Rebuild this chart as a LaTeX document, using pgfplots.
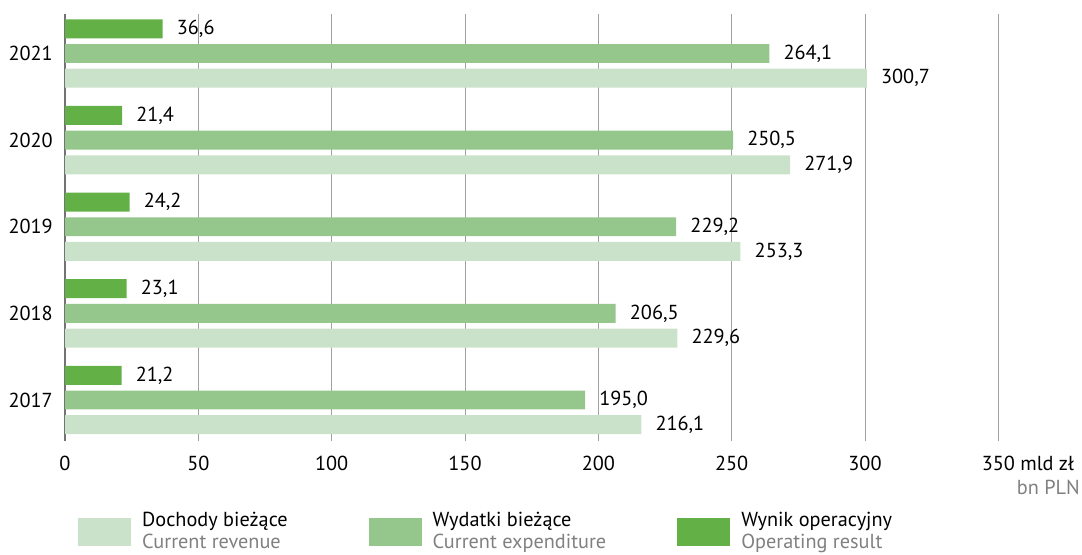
\documentclass[border=0pt]{standalone}
\usepackage{fontspec}
\setmainfont{PT Sans}
\usepackage{pgfplots}
\pgfplotsset{compat=1.18}
\definecolor{gdark}{RGB}{99,177,70}
\definecolor{gmid}{RGB}{149,198,139}
\definecolor{glight}{RGB}{203,226,202}
\definecolor{gridgray}{RGB}{160,160,160}
\definecolor{txtgray}{RGB}{128,128,128}
\pgfplotsset{sw/.style={legend image code/.code={\fill[#1] (0pt,-10.5pt) rectangle (39.75pt,10.5pt);}}}

\begin{document}
\fontsize{15.2}{16.5}\selectfont
\begin{tikzpicture}
\useasboundingbox (-48.75pt,-84.75pt) rectangle (762.75pt,330.75pt);
\begin{axis}[
  at={(0,0)}, anchor=south west,
  scale only axis, width=700pt, height=320.25pt,
  xbar, bar width=0.219,
  xmin=0, xmax=350, ymin=-0.4734, ymax=4.456,
  xtick={0,50,...,350},
  xticklabels={0,50,100,150,200,250,300,350\rlap{ mld zł}},
  ytick={0,...,4}, yticklabels={2017,2018,2019,2020,2021},
  major tick length=0pt,
  axis lines*=left, separate axis lines,
  x axis line style={draw=none},
  y axis line style={-, draw=black!55, line width=0.8pt},
  xmajorgrids, grid style={gridgray, line width=0.6pt},
  xticklabel style={anchor=center, inner sep=0pt, yshift=-16.5pt},
  yticklabel style={anchor=east, inner sep=0pt, xshift=-9pt},
  clip=false,
  nodes near coords={\pgfmathprintnumber[fixed,fixed zerofill,precision=1,use comma,assume math mode=true]{\pgfplotspointmeta}},
  nodes near coords style={anchor=west, inner sep=0pt, xshift=10.5pt, text=black},
  legend columns=3,
  legend style={draw=none, fill=none, at={(0.0139,-0.1663)}, anchor=north west,
    inner sep=0pt, nodes={align=left, inner sep=0pt},
    /tikz/every odd column/.append style={column sep=8.25pt},
    /tikz/column 2/.append style={column sep=60.75pt},
    /tikz/column 4/.append style={column sep=53.25pt}},
  legend cell align=left,
]
\addplot[fill=glight, draw=none, bar shift=-0.285, sw=glight] coordinates {(216.1,0) (229.6,1) (253.3,2) (271.9,3) (300.7,4)};
\addlegendentry{Dochody bieżące\\\textcolor{txtgray}{Current revenue}}
\addplot[fill=gmid, draw=none, bar shift=0, sw=gmid] coordinates {(195.0,0) (206.5,1) (229.2,2) (250.5,3) (264.1,4)};
\addlegendentry{Wydatki bieżące\\\textcolor{txtgray}{Current expenditure}}
\addplot[fill=gdark, draw=none, bar shift=0.285, sw=gdark] coordinates {(21.2,0) (23.1,1) (24.2,2) (21.4,3) (36.6,4)};
\addlegendentry{Wynik operacyjny\\\textcolor{txtgray}{Operating result}}
\node[anchor=east, inner sep=0pt, text=txtgray] at (axis description cs:1.0875,-0.1077) {bn PLN};
\end{axis}
\end{tikzpicture}
\end{document}
